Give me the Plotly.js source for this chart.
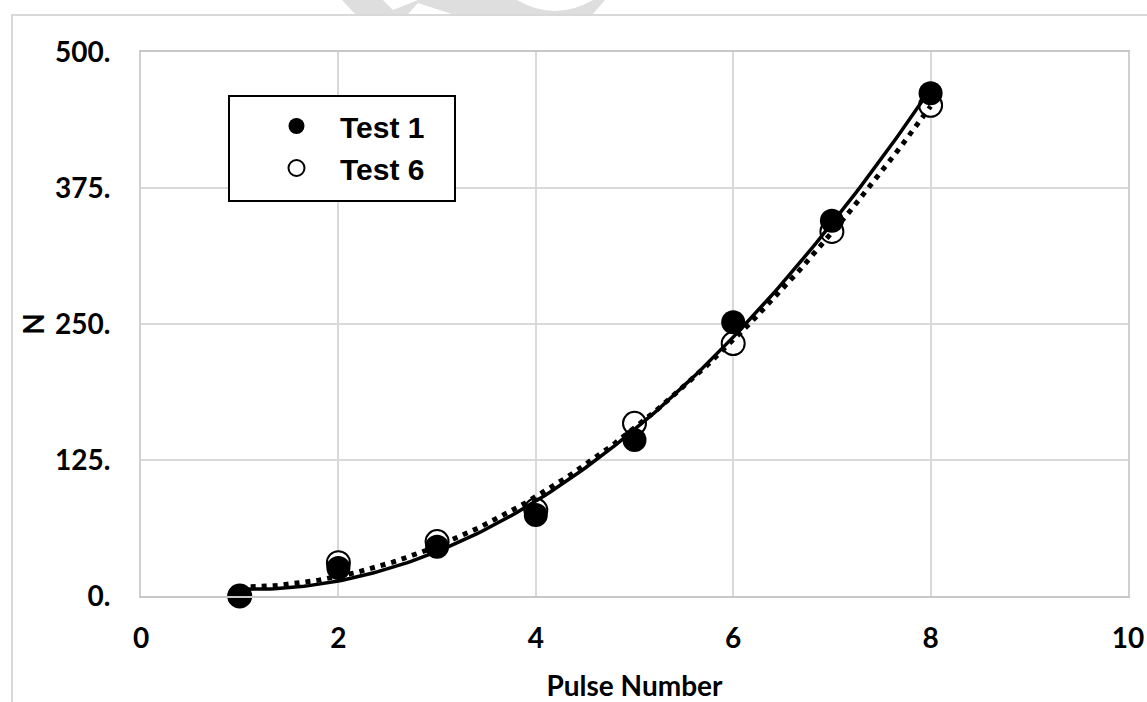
<!DOCTYPE html>
<html>
<head>
<meta charset="utf-8">
<script src="https://cdn.plot.ly/plotly-3.0.1.min.js"></script>
<style>html,body{margin:0;padding:0;background:#fff;}#chart{width:1147px;height:702px;}</style>
</head>
<body>
<div id="chart"></div>
<script>
// ---- data ----
const pulseNumber = [1, 2, 3, 4, 5, 6, 7, 8];
const test1Values = [0, 25.7, 45.3, 74.4, 143.4, 251.6, 345, 462];
const test6Values = [0, 30.6, 50, 79, 158.7, 232, 335, 451];
const seriesNames = ['Test 1', 'Test 6'];
const yTickVals = [0, 125, 250, 375, 500];
const yTickText = ['0.', '125.', '250.', '375.', '500.'];
const xTickVals = [0, 2, 4, 6, 8, 10];
const xTitle = 'Pulse Number';
const yTitle = 'N';

// ---- 2nd-order least-squares trendline (as the spreadsheet trendline) ----
function quadFit(xs, ys) {
  let S = [0,0,0,0,0], T = [0,0,0];
  for (let i = 0; i < xs.length; i++) {
    let p = 1;
    for (let k = 0; k < 5; k++) { S[k] += p; if (k < 3) T[k] += p * ys[i]; p *= xs[i]; }
  }
  const A = [[S[0],S[1],S[2],T[0]],[S[1],S[2],S[3],T[1]],[S[2],S[3],S[4],T[2]]];
  for (let c = 0; c < 3; c++) {
    for (let r = c + 1; r < 3; r++) {
      const f = A[r][c] / A[c][c];
      for (let k = c; k < 4; k++) A[r][k] -= f * A[c][k];
    }
  }
  const coef = [0,0,0];
  for (let r = 2; r >= 0; r--) {
    let s = A[r][3];
    for (let k = r + 1; k < 3; k++) s -= A[r][k] * coef[k];
    coef[r] = s / A[r][r];
  }
  return coef;
}
function trend(xs, ys) {
  const c = quadFit(xs, ys);
  const x0 = xs[0], x1 = xs[xs.length - 1];
  const tx = [], ty = [];
  for (let i = 0; i <= 140; i++) {
    const x = x0 + (x1 - x0) * i / 140;
    tx.push(x); ty.push(c[0] + c[1] * x + c[2] * x * x);
  }
  return {x: tx, y: ty};
}
const t1 = trend(pulseNumber, test1Values);
const t6 = trend(pulseNumber, test6Values);

const traces = [
  {x: pulseNumber, y: test6Values, name: seriesNames[1], type: 'scatter', mode: 'markers',
   marker: {symbol: 'circle', size: 23, color: '#ffffff', line: {color: '#000', width: 2}},
   cliponaxis: false, legendrank: 2},
  {x: t6.x, y: t6.y, type: 'scatter', mode: 'lines', showlegend: false, hoverinfo: 'skip',
   line: {color: '#000', width: 5, dash: '5px,6px'}},
  {x: t1.x, y: t1.y, type: 'scatter', mode: 'lines', showlegend: false, hoverinfo: 'skip',
   line: {color: '#000', width: 3.5}},
  {x: pulseNumber, y: test1Values, name: seriesNames[0], type: 'scatter', mode: 'markers',
   marker: {symbol: 'circle', size: 24, color: '#000'}, cliponaxis: false, legendrank: 1}
];

// pixel -> paper helpers for decorations
const L = 141, R = 1128, T = 52, B = 596;
const px = v => (v - L) / (R - L);
const py = v => (B - v) / (B - T);
function pathFrom(cmds) {
  return cmds.map(c => {
    if (c[0] === 'Z') return 'Z';
    const pts = [];
    for (let i = 1; i < c.length; i += 2) pts.push(px(c[i]).toFixed(5) + ',' + py(c[i+1]).toFixed(5));
    return c[0] + pts.join(' ');
  }).join(' ');
}
const watermark = pathFrom([
  ['M',342,0],['L',355,14],['L',408,14],['L',418,3],['L',452,14],['L',593,14],['L',605,0],['L',593,0],
  ['Q',555,22,517,0],['L',418,0],['L',393,10],['L',383,0],['Z']
]);

const tickFont = {family: 'Lato, "Open Sans", sans-serif', size: 28, color: '#000', weight: 700};

const layout = {
  width: 1147, height: 702,
  margin: {l: 141, r: 19, t: 52, b: 106},
  paper_bgcolor: '#fff', plot_bgcolor: '#fff',
  showlegend: true,
  legend: {x: px(253), y: py(100), xanchor: 'left', yanchor: 'top', bgcolor: 'rgba(0,0,0,0)',
           borderwidth: 0, font: {family: '"Liberation Sans", Arial, sans-serif', size: 30, color: '#000', weight: 700},
           tracegroupgap: 0, itemwidth: 77},
  xaxis: {range: [0, 10], tickvals: xTickVals, ticktext: xTickVals.map(String), tickfont: tickFont,
          showgrid: true, gridcolor: '#d9d9d9', gridwidth: 2, zeroline: false,
          showline: true, linecolor: '#c8c8c8', linewidth: 2, mirror: true, ticks: '', ticklabelstandoff: 16,
          title: {text: xTitle, font: tickFont, standoff: 24}, fixedrange: true},
  yaxis: {range: [0, 500], tickvals: yTickVals, ticktext: yTickText, tickfont: tickFont,
          showgrid: true, gridcolor: '#d9d9d9', gridwidth: 2, zeroline: false,
          showline: true, linecolor: '#d0d0d0', linewidth: 2, mirror: true, ticks: '', ticklabelstandoff: 23,
          title: {text: yTitle, font: tickFont, standoff: 2}, fixedrange: true},
  shapes: [
    {type: 'rect', xref: 'paper', yref: 'paper', x0: px(12), x1: px(1170), y0: py(15), y1: py(730),
     line: {color: '#d9d9d9', width: 2}, fillcolor: 'rgba(0,0,0,0)', layer: 'below'},
    {type: 'path', xref: 'paper', yref: 'paper', path: watermark, fillcolor: '#dedede', line: {width: 0}, layer: 'below'},
    {type: 'rect', xref: 'paper', yref: 'paper', x0: px(229), x1: px(455), y0: py(201), y1: py(96),
     line: {color: '#000', width: 2}, fillcolor: '#fff', layer: 'above'}
  ]
};

Plotly.newPlot('chart', traces, layout, {displayModeBar: false, staticPlot: true});
</script>
</body>
</html>
